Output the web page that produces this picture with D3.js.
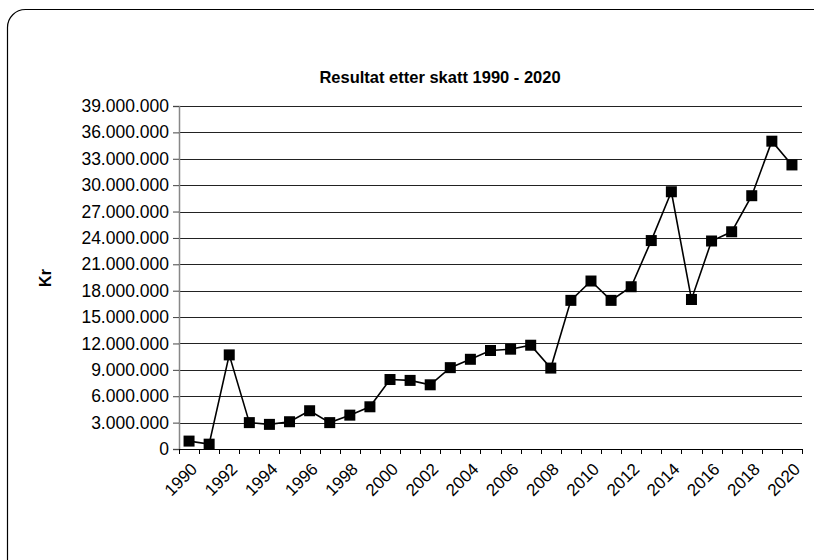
<!doctype html>
<html lang="no">
<head>
  <meta charset="utf-8">
  <style>
    body { margin: 0; background: #fff; }
    svg text { font-family: "Liberation Sans", Arial, sans-serif; fill: #000; }
  </style>
</head>
<body>
  <div id="chart"></div>
  <script src="https://cdn.jsdelivr.net/npm/d3@7"></script>
  <script>
  // data
  var years = ["1990","1991","1992","1993","1994","1995","1996","1997","1998","1999",
               "2000","2001","2002","2003","2004","2005","2006","2007","2008","2009",
               "2010","2011","2012","2013","2014","2015","2016","2017","2018","2019","2020"];
  var resultat = [900000, 550000, 10700000, 3000000, 2800000, 3100000, 4350000, 3000000, 3850000, 4800000,
                  7900000, 7800000, 7300000, 9250000, 10200000, 11200000, 11350000, 11800000, 9200000, 16900000,
                  19100000, 16900000, 18450000, 23700000, 29250000, 17000000, 23650000, 24700000, 28800000, 35000000, 32300000];
  var yTicks = [0, 3000000, 6000000, 9000000, 12000000, 15000000, 18000000, 21000000,
                24000000, 27000000, 30000000, 33000000, 36000000, 39000000];
  var xLabels = ["1990","1992","1994","1996","1998","2000","2002","2004","2006","2008",
                 "2010","2012","2014","2016","2018","2020"];

  var width = 814, height = 560;
  var plot = {left: 179, right: 802, top: 106, bottom: 449};

  var nb = d3.formatLocale({decimal: ",", thousands: ".", grouping: [3], currency: ["", ""]});
  var fmt = nb.format(",d");

  var svg = d3.select("#chart").append("svg")
      .attr("width", width)
      .attr("height", height);

  // outer frame (runs off the right and bottom edge)
  svg.append("rect")
     .attr("x", 7.5).attr("y", 9.5)
     .attr("width", 830).attr("height", 570)
     .attr("rx", 18).attr("ry", 18)
     .attr("fill", "none")
     .attr("stroke", "#000")
     .attr("stroke-width", 1.2);

  var x = d3.scaleBand().domain(years).range([plot.left, plot.right]);
  var y = d3.scaleLinear().domain([0, 39000000]).range([plot.bottom, plot.top]);

  // gridlines
  svg.append("g").selectAll("line")
     .data(yTicks.filter(function(d) { return d > 0; }))
     .enter().append("line")
     .attr("x1", plot.left).attr("x2", plot.right)
     .attr("y1", function(d) { return Math.round(y(d)) + 0.5; })
     .attr("y2", function(d) { return Math.round(y(d)) + 0.5; })
     .attr("stroke", "#222")
     .attr("stroke-width", 1.2);

  // y axis
  var yAxis = d3.axisLeft(y).tickValues(yTicks).tickFormat(fmt).tickSize(6).tickPadding(4);
  var gy = svg.append("g")
     .attr("transform", "translate(" + plot.left + ",0)")
     .call(yAxis);
  gy.select(".domain").attr("stroke", "#888").attr("stroke-width", 1.5);
  gy.selectAll(".tick line").attr("stroke", "#444");
  gy.selectAll("text")
     .style("font-size", "17.5px")
     .attr("fill", "#000");

  // x axis line + ticks at category boundaries
  svg.append("line")
     .attr("x1", plot.left).attr("x2", plot.right)
     .attr("y1", y(0) + 0.5).attr("y2", y(0) + 0.5)
     .attr("stroke", "#000");
  var bounds = years.map(function(d) { return x(d); }).concat([x.range()[1]]);
  svg.append("g").selectAll("line")
     .data(bounds)
     .enter().append("line")
     .attr("x1", function(d) { return Math.round(d) + 0.5; })
     .attr("x2", function(d) { return Math.round(d) + 0.5; })
     .attr("y1", y(0)).attr("y2", y(0) + 5)
     .attr("stroke", "#000");

  svg.append("g").selectAll("text")
     .data(xLabels)
     .enter().append("text")
     .attr("transform", function(d) {
        return "translate(" + (x(d) + x.bandwidth() / 2 + 5) + "," + (y(0) + 17) + ") rotate(-45)";
     })
     .attr("text-anchor", "end")
     .attr("dy", "0.35em")
     .style("font-size", "17px")
     .text(function(d) { return d; });

  // series
  var pts = years.map(function(d, i) { return {year: d, v: resultat[i]}; });
  var line = d3.line()
      .x(function(d) { return x(d.year) + x.bandwidth() / 2; })
      .y(function(d) { return y(d.v); });

  svg.append("path")
     .datum(pts)
     .attr("d", line)
     .attr("fill", "none")
     .attr("stroke", "#000")
     .attr("stroke-width", 1.6);

  var ms = 11;
  svg.append("g").selectAll("rect")
     .data(pts)
     .enter().append("rect")
     .attr("x", function(d) { return x(d.year) + x.bandwidth() / 2 - ms / 2; })
     .attr("y", function(d) { return y(d.v) - ms / 2; })
     .attr("width", ms).attr("height", ms)
     .attr("fill", "#000");

  // title and axis title
  svg.append("text")
     .attr("x", 440).attr("y", 83)
     .attr("text-anchor", "middle")
     .style("font-size", "16.5px")
     .style("font-weight", "bold")
     .text("Resultat etter skatt 1990 - 2020");

  svg.append("text")
     .attr("transform", "translate(51,278) rotate(-90)")
     .attr("text-anchor", "middle")
     .style("font-size", "16px")
     .style("font-weight", "bold")
     .text("Kr");
  </script>
</body>
</html>
